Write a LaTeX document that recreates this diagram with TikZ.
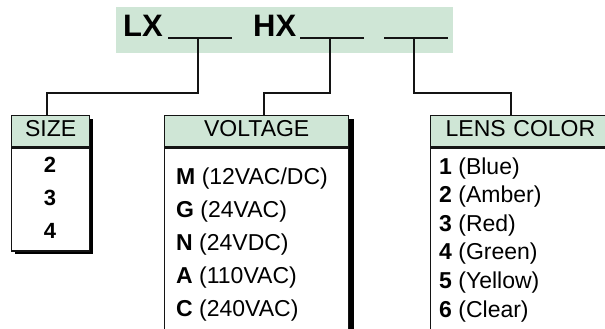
\documentclass[tikz,border=0pt]{standalone}
\usepackage{fontspec}
\setmainfont{Liberation Sans}
\definecolor{pgreen}{RGB}{207,230,214}
\definecolor{lineblk}{RGB}{20,20,20}
\begin{document}
\begin{tikzpicture}[x=1pt,y=-1pt,
  topbar/.style={fill=pgreen,draw=none,minimum width=337pt,minimum height=46pt,inner sep=0pt,anchor=north west},
  bigtxt/.style={font=\fontsize{31}{36}\selectfont\bfseries,inner sep=0pt,anchor=base west},
  blank/.style={minimum width=63pt,minimum height=0pt,inner sep=0pt},
  uline/.style={line width=1.5pt,draw=lineblk},
  conn/.style={line width=1.8pt,draw=lineblk},
  hdr/.style={fill=pgreen,draw=lineblk,line width=1.4pt,inner sep=0pt,minimum height=31pt,text height=16pt,text depth=5pt,font=\fontsize{23}{27}\selectfont,anchor=north west},
  bodybox/.style={fill=white,draw=lineblk,line width=1.4pt,inner sep=0pt,anchor=north},
  item/.style={font=\fontsize{23}{27}\selectfont,inner sep=0pt,anchor=base west},
  digit/.style={font=\fontsize{22}{26}\selectfont\bfseries,inner sep=0pt,anchor=base},
  shadowbox/.style={fill=black}
]
\useasboundingbox (0,0) rectangle (605,329);
% top code bar
\node[topbar] (code) at (116,7) {};
\node[bigtxt] (lx) at (123,37) {LX};
\node[bigtxt] (hx) at (253,37) {HX};
\node[blank] (b1) at (200,38) {};
\node[blank] (b2) at (332,38) {};
\node[blank] (b3) at (416,38) {};
\draw[uline] (b1.west) -- (b1.east);
\draw[uline] (b2.west) -- (b2.east);
\draw[uline] (b3.west) -- (b3.east);

% shadows
\fill[shadowbox] (15,119) rectangle (93,254);
\fill[shadowbox] (168,119) rectangle (354,333);

% SIZE box
\node[hdr,minimum width=78pt] (sizeh) at (11,115) {SIZE};
\node[bodybox,minimum width=78pt,minimum height=103pt] (sizeb) at (sizeh.south) {};
\node[digit] (s2) at (50,172) {2};
\node[digit] (s3) at (50,205) {3};
\node[digit] (s4) at (50,238) {4};

% VOLTAGE box
\node[hdr,minimum width=184pt] (volth) at (164,115) {VOLTAGE};
\node[bodybox,minimum width=184pt,minimum height=182pt] (voltb) at (volth.south) {};
\node[item] (vm) at (176,184) {\textbf{M} (12VAC/DC)};
\node[item] (vg) at (176,217) {\textbf{G} (24VAC)};
\node[item] (vn) at (176,250) {\textbf{N} (24VDC)};
\node[item] (va) at (176,283) {\textbf{A} (110VAC)};
\node[item] (vc) at (176,316) {\textbf{C} (240VAC)};

% LENS COLOR box
\node[hdr,minimum width=190pt,text width=190pt,align=left] (lensh) at (430,115) {\hspace*{15pt}LENS COLOR};
\node[bodybox,minimum width=190pt,minimum height=182pt] (lensb) at (lensh.south) {};
\node[item] (l1) at (439,174) {\textbf{1} (Blue)};
\node[item] (l2) at (439,202.6) {\textbf{2} (Amber)};
\node[item] (l3) at (439,231.2) {\textbf{3} (Red)};
\node[item] (l4) at (439,259.8) {\textbf{4} (Green)};
\node[item] (l5) at (439,288.4) {\textbf{5} (Yellow)};
\node[item] (l6) at (439,317) {\textbf{6} (Clear)};

% connectors
\draw[conn] ([xshift=-2pt]b1.center) -- ++(0,55) -| ([xshift=-4pt]sizeh.north);
\draw[conn] ([xshift=-2pt]b2.center) -- ++(0,55) -| ([xshift=7pt]volth.north);
\draw[conn] ([xshift=-2pt]b3.center) -- ++(0,55) -| ([xshift=-15pt]lensh.north);
\end{tikzpicture}
\end{document}
